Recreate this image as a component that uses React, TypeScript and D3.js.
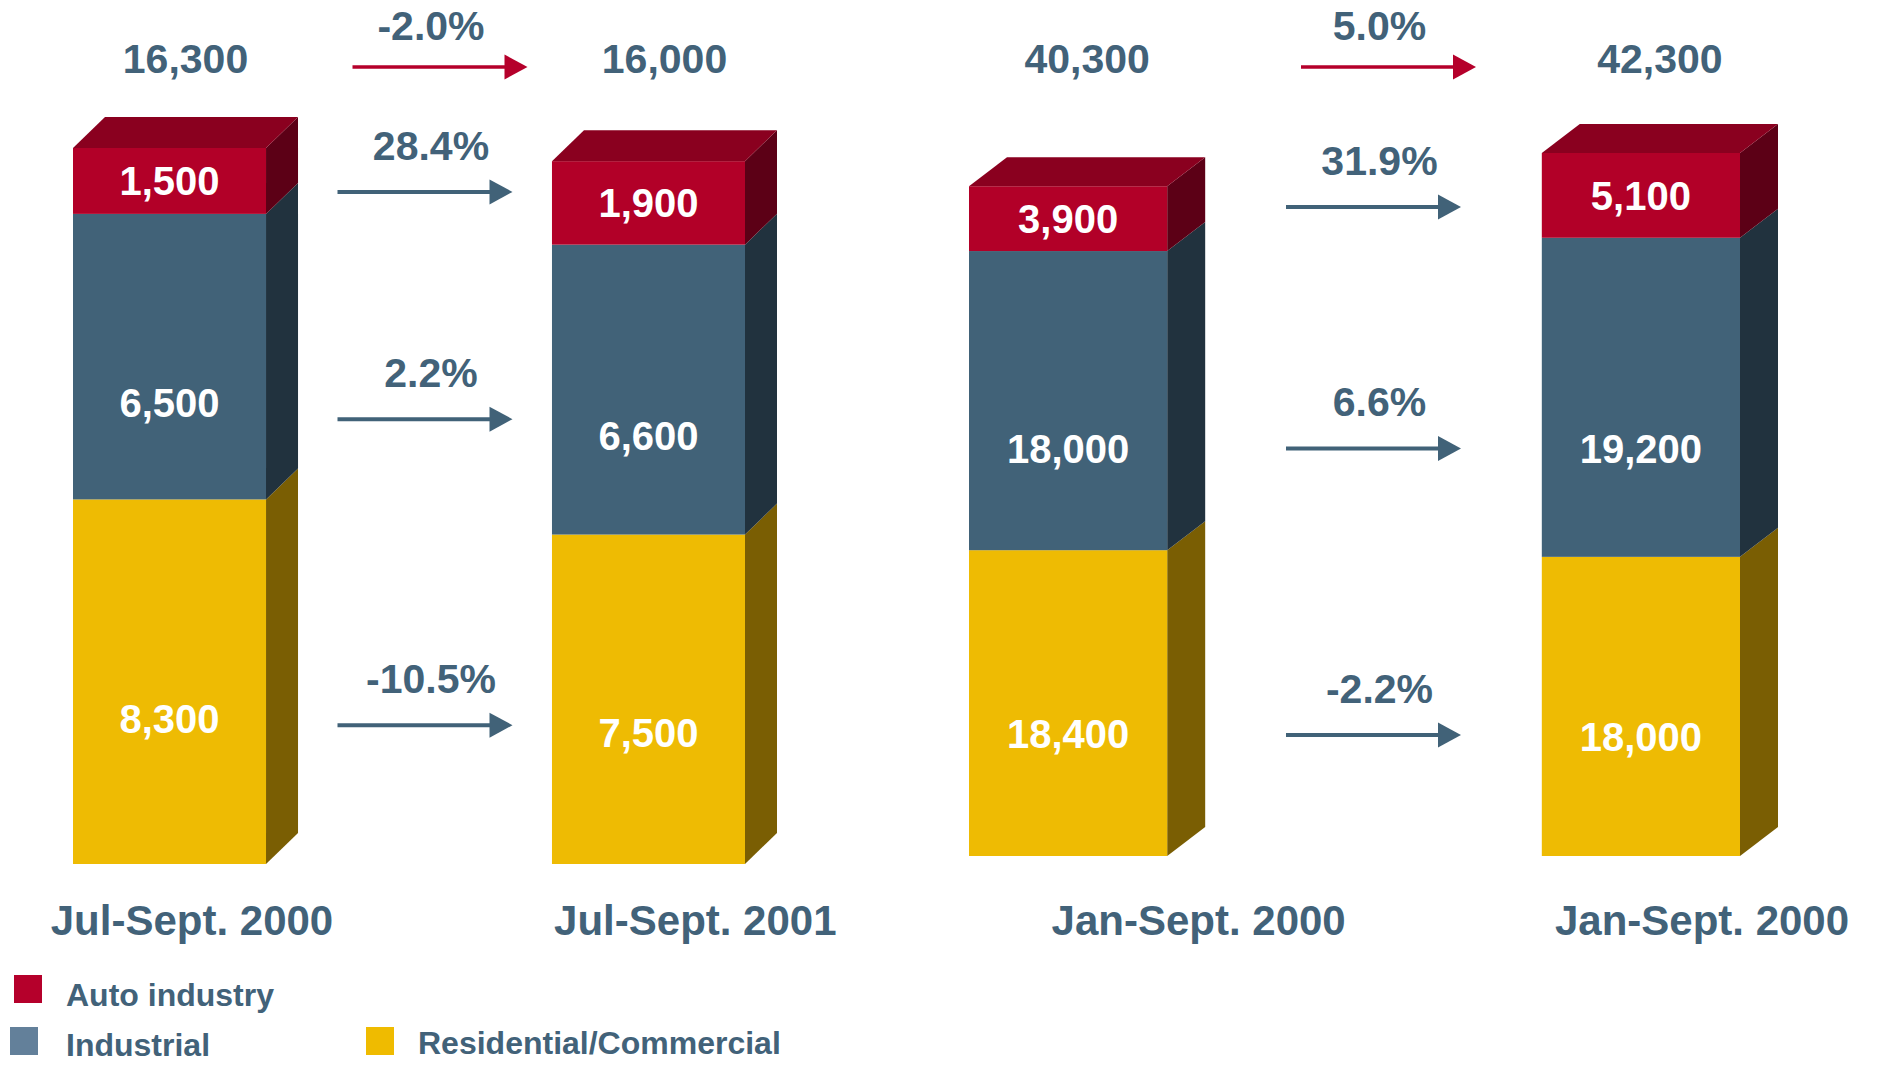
import React from 'react';
import * as d3 from 'd3';

// periods (the 4th label is printed like this in the source)
const periods = ['Jul-Sept. 2000', 'Jul-Sept. 2001', 'Jan-Sept. 2000', 'Jan-Sept. 2000'];
const panelOf = [0, 0, 1, 1];

// stacked from the bottom up
const residential = [8300, 7500, 18400, 18000];
const industrial = [6500, 6600, 18000, 19200];
const auto = [1500, 1900, 3900, 5100];

// change from the first to the second period of each panel
const totalChange = ['-2.0%', '5.0%'];
const autoChange = ['28.4%', '31.9%'];
const industrialChange = ['2.2%', '6.6%'];
const residentialChange = ['-10.5%', '-2.2%'];

const legendLabels = ['Auto industry', 'Industrial', 'Residential/Commercial'];

const W = 1887;
const H = 1065;
const FONT = '"Liberation Sans", Arial, sans-serif';
const TEXT = '#426279';

const keys = ['residential', 'industrial', 'auto'] as const;
const front: Record<string, string> = { residential: '#EEBB03', industrial: '#416278', auto: '#B20028' };
const side: Record<string, string> = { residential: '#7A5E03', industrial: '#21323E', auto: '#5C0016' };
const topFace = '#8A001F';
const labelAt: Record<string, number> = { residential: 0.6, industrial: 0.66, auto: 0.5 };
const changes: Record<string, string[]> = { residential: residentialChange, industrial: industrialChange, auto: autoChange };

// two separate panels, each with its own scale
const panels = [
  { x0: 73, x1: 745, pad: 0.597, bottom: 864, top: 148, dx: 32, dy: 31 },
  { x0: 969, x1: 1740, pad: 0.654, bottom: 856, top: 153, dx: 38, dy: 29 },
];

const fmt = d3.format(',');

const Arrow: React.FC<{ x1: number; x2: number; y: number; color: string; w: number }> = ({ x1, x2, y, color, w }) => {
  const head = 23;
  const hh = 12.5;
  return (
    <g>
      <line x1={x1} x2={x2 - head + 1} y1={y} y2={y} stroke={color} strokeWidth={w} />
      <polygon points={`${x2 - head},${y - hh} ${x2},${y} ${x2 - head},${y + hh}`} fill={color} />
    </g>
  );
};

export default function App() {
  const rows = periods.map((p, i) => ({
    i,
    residential: residential[i],
    industrial: industrial[i],
    auto: auto[i],
  }));
  const stacked = d3.stack<any>().keys(keys as any)(rows);
  const totals = rows.map((r) => r.residential + r.industrial + r.auto);

  const xLabel = d3.scalePoint<number>().domain(periods.map((_, i) => i)).range([192, 1702]);

  const elems: React.ReactNode[] = [];

  panels.forEach((pn, pi) => {
    const idx = periods.map((_, i) => i).filter((i) => panelOf[i] === pi);
    const x = d3.scaleBand<number>().domain(idx).range([pn.x0, pn.x1]).paddingInner(pn.pad).paddingOuter(0);
    const y = d3.scaleLinear().domain([0, d3.max(idx, (i) => totals[i]) as number]).range([pn.bottom, pn.top]);
    const bw = x.bandwidth();
    const labelY: Record<string, number[]> = { residential: [], industrial: [], auto: [] };

    idx.forEach((i) => {
      const bx = x(i) as number;
      stacked.forEach((layer) => {
        const k = layer.key;
        const [v0, v1] = layer[i];
        const yb = y(v0);
        const yt = y(v1);
        elems.push(
          <g key={`${i}-${k}`}>
            <polygon
              points={`${bx + bw},${yt} ${bx + bw + pn.dx},${yt - pn.dy} ${bx + bw + pn.dx},${yb - pn.dy} ${bx + bw},${yb}`}
              fill={side[k]}
            />
            <rect x={bx} y={yt} width={bw} height={yb - yt} fill={front[k]} />
          </g>
        );
        const ly = yt + (yb - yt) * labelAt[k];
        labelY[k].push(ly);
        elems.push(
          <text key={`l-${i}-${k}`} x={bx + bw / 2} y={ly} dy="0.36em" textAnchor="middle" fill="#fff"
            fontSize={40} fontWeight="bold" fontFamily={FONT}>
            {fmt(layer[i].data[k])}
          </text>
        );
      });
      // top face
      const yTop = y(totals[i]);
      elems.push(
        <polygon key={`top-${i}`}
          points={`${bx},${yTop} ${bx + pn.dx},${yTop - pn.dy} ${bx + bw + pn.dx},${yTop - pn.dy} ${bx + bw},${yTop}`}
          fill={topFace} />
      );
      elems.push(
        <text key={`t-${i}`} x={bx + (bw + pn.dx) / 2} y={73} textAnchor="middle" fill={TEXT}
          fontSize={41} fontWeight="bold" fontFamily={FONT}>
          {fmt(totals[i])}
        </text>
      );
    });

    // change arrows in the gap between the two bars
    const gapL = (x(idx[0]) as number) + bw + pn.dx;
    const gapR = x(idx[1]) as number;
    const cx = (gapL + gapR) / 2;
    const half = 87.5;
    keys.forEach((k) => {
      const ay = d3.mean(labelY[k]) as number;
      elems.push(<Arrow key={`a-${pi}-${k}`} x1={cx - half} x2={cx + half} y={ay} color="#416278" w={4} />);
      elems.push(
        <text key={`p-${pi}-${k}`} x={cx + 6} y={ay - 32} textAnchor="middle" fill={TEXT}
          fontSize={41} fontWeight="bold" fontFamily={FONT}>
          {changes[k][pi]}
        </text>
      );
    });
    elems.push(<Arrow key={`ar-${pi}`} x1={cx - half + 15} x2={cx + half + 15} y={67} color="#B5002B" w={3.5} />);
    elems.push(
      <text key={`pr-${pi}`} x={cx + 6} y={40} textAnchor="middle" fill={TEXT}
        fontSize={41} fontWeight="bold" fontFamily={FONT}>
        {totalChange[pi]}
      </text>
    );
  });

  const legend = [
    { label: legendLabels[0], color: '#B5002B', sx: 14, sy: 975, tx: 66, ty: 1006 },
    { label: legendLabels[1], color: '#63809A', sx: 10, sy: 1027, tx: 66, ty: 1056 },
    { label: legendLabels[2], color: '#EFBB00', sx: 366, sy: 1027, tx: 418, ty: 1054 },
  ];

  return (
    <svg width={W} height={H} style={{ position: 'absolute', left: 0, top: 0, background: '#fff' }}>
      <rect width={W} height={H} fill="#fff" />
      {elems}
      {periods.map((p, i) => (
        <text key={`c-${i}`} x={xLabel(i)} y={935} textAnchor="middle" fill={TEXT}
          fontSize={42} fontWeight="bold" fontFamily={FONT}>
          {p}
        </text>
      ))}
      {legend.map((l) => (
        <g key={l.label}>
          <rect x={l.sx} y={l.sy} width={28} height={28} fill={l.color} />
          <text x={l.tx} y={l.ty} fill={TEXT} fontSize={32} fontWeight="bold" fontFamily={FONT}>
            {l.label}
          </text>
        </g>
      ))}
    </svg>
  );
}
